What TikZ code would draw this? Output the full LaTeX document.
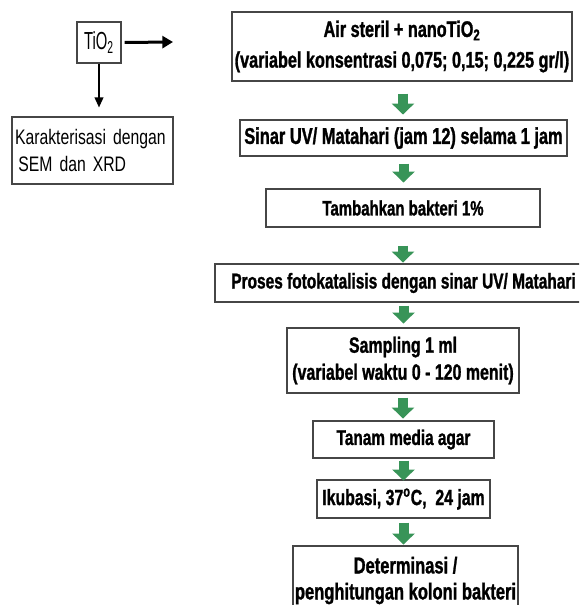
\documentclass[tikz,border=0pt]{standalone}
\usepackage{fontspec}
\setmainfont{Liberation Sans}
\newfontfamily\nb[FakeStretch=0.72,BoldFeatures={FakeBold=1.2}]{Liberation Sans}
\newfontfamily\nl[FakeStretch=0.75]{Liberation Sans}
\newfontfamily\nt[FakeStretch=0.6]{Liberation Sans}
\usetikzlibrary{arrows.meta,calc}
\definecolor{garrowc}{RGB}{56,148,88}
\definecolor{boxc}{RGB}{70,70,70}
\newcommand\fsz[2]{\fontsize{#1}{#2}\selectfont}
\begin{document}
\begin{tikzpicture}[x=0.75pt,y=-0.75pt,
  box/.style={draw=boxc, line width=0.8pt, inner sep=0pt, align=center, font=\nb\bfseries},
  lbox/.style={draw=boxc, line width=0.8pt, inner sep=0pt},
  garrow/.style={draw=garrowc, line width=7.5pt, -{Triangle[length=8.25pt,width=16.5pt]}},
  barrow/.style={draw=black, line width=2.25pt, -{Triangle[length=8pt,width=9pt]}},
  darrow/.style={draw=black, line width=1.2pt, -{Triangle[length=7.5pt,width=6.5pt]}}]
\useasboundingbox (0,0) rectangle (579,605);
\clip (0,0) rectangle (579,605);
% left part
\node[lbox, minimum width=33pt, minimum height=30.75pt, font=\nt\fsz{18.5pt}{20pt}] (tio) at (99,42.5) {TiO\textsubscript{2}};
\node[lbox, minimum width=120.75pt, minimum height=50.25pt, text width=116.25pt, align=left, inner xsep=2pt, font=\nl\fsz{15.75pt}{20.25pt}] (kar) at (92.5,150.5) {Karakterisasi dengan\\\hspace*{2.6pt}SEM dan XRD};
\coordinate (tend) at (173,42);
\draw[barrow] ([xshift=2.25pt]tio.east) -- (tend);
\draw[darrow, shorten >=6.75pt] (tio.south) -- (tio.south |- kar.north);
% right chain
\node[box, minimum width=255pt, minimum height=51.75pt, font=\nb\bfseries\fsz{16.9pt}{20pt}] (air) at (402,46.5) {Air steril + nanoTiO\textsubscript{2}\\[3pt](variabel konsentrasi 0,075; 0,15; 0,225 gr/l)};
\node[box, minimum width=245.25pt, minimum height=27pt, font=\nb\bfseries\fsz{17.1pt}{20pt}] (sinar) at (403.5,138) {Sinar UV/ Matahari (jam 12) selama 1 jam};
\node[box, minimum width=205.5pt, minimum height=28.5pt, font=\nb\bfseries\fsz{15.6pt}{18pt}] (tamb) at (403,208) {Tambahkan bakteri 1\%};
\node[box, minimum width=282.75pt, minimum height=28.5pt, font=\nb\bfseries\fsz{16.1pt}{19pt}] (proses) at (403.5,283) {Proses fotokatalisis dengan sinar UV/ Matahari};
\node[box, minimum width=174pt, minimum height=48.75pt, font=\nb\bfseries\fsz{16.6pt}{20.25pt}] (samp) at (403,360.5) {Sampling 1 ml\\(variabel waktu 0 - 120 menit)};
\node[box, minimum width=135.75pt, minimum height=27.75pt, font=\nb\bfseries\fsz{16pt}{19pt}] (tanam) at (403.5,439.5) {Tanam media agar};
\node[box, minimum width=129.75pt, minimum height=28.5pt, font=\nb\bfseries\fsz{16.5pt}{19pt}] (iku) at (403.5,499) {Ikubasi, 37\textsuperscript{o}C,\ \ 24 jam};
\node[box, minimum width=168.75pt, minimum height=51.75pt, font=\nb\bfseries\fsz{17.2pt}{19.5pt}] (det) at (405.5,580.5) {Determinasi /\\penghitungan koloni bakteri};
% green arrows
\draw[garrow] ($(air.south)+(1,12)$) -- ++(0,21);
\draw[garrow] ($(sinar.south)+(0,7)$) -- ++(0,19);
\draw[garrow] ($(tamb.south)+(0,18)$) -- ++(0,17);
\draw[garrow] ($(proses.south)+(0,3)$) -- ++(0,18);
\draw[garrow] ($(samp.south)+(0,4)$) -- ++(0,21);
\draw[garrow] ($(tanam.south)+(0,2)$) -- ++(0,20);
\draw[garrow] ($(iku.south)+(0,4)$) -- ++(0,22);
\end{tikzpicture}
\end{document}
